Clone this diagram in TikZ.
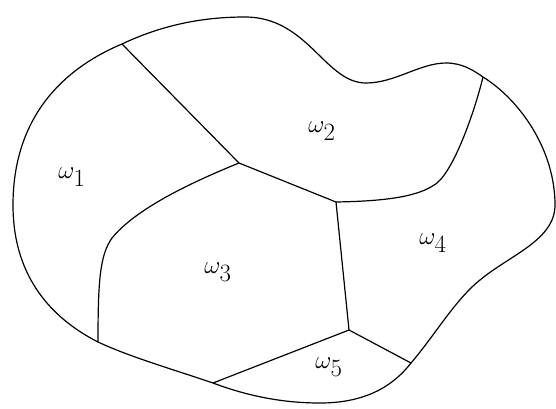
\documentclass[tikz,border=0pt]{standalone}
\begin{document}
\begin{tikzpicture}[x=1pt,y=-1pt,
  edge/.style={line width=1.2pt,line join=round},
  lab/.style={font=\fontsize{33pt}{38pt}\selectfont,inner sep=0pt}]
\useasboundingbox (0,0) rectangle (556,408);
\coordinate (A) at (122,44);
\coordinate (B) at (483,77);
\coordinate (C) at (411,363);
\coordinate (D) at (213,383);
\coordinate (E) at (98,342);
\coordinate (P) at (239,163);
\coordinate (Q) at (336,202);
\coordinate (R) at (349,330);
% outer boundary
\draw[edge] (A) .. controls (160,26) and (200,17) .. (245,17)
  .. controls (308,17) and (325,83) .. (366,83)
  .. controls (395,83) and (420,63) .. (446,63)
  .. controls (462,63) and (473,70) .. (B)
  .. controls (520,100) and (555,150) .. (555,205)
  .. controls (555,240) and (510,255) .. (480,280)
  .. controls (455,300) and (435,335) .. (C)
  .. controls (390,390) and (360,403) .. (320,403)
  .. controls (280,403) and (245,395) .. (D)
  .. controls (175,370) and (130,357) .. (E)
  .. controls (55,320) and (13,280) .. (13,205)
  .. controls (13,120) and (60,70) .. (A) -- cycle;
% interior
\draw[edge] (A) -- (P) -- (Q) -- (R) -- (C);
\draw[edge] (R) -- (D);
\draw[edge] (Q) .. controls (390,201) and (420,196) .. (437,183)
  .. controls (455,168) and (475,110) .. (B);
\draw[edge] (P) .. controls (185,185) and (135,210) .. (112,238)
  .. controls (100,255) and (98,280) .. (E);
\node[lab] (w1) at (72,177) {$\omega_1$};
\node[lab] (w2) at (322,131) {$\omega_2$};
\node[lab] (w3) at (218,272) {$\omega_3$};
\node[lab] (w4) at (433,243) {$\omega_4$};
\node[lab] (w5) at (329,367) {$\omega_5$};
\end{tikzpicture}
\end{document}
